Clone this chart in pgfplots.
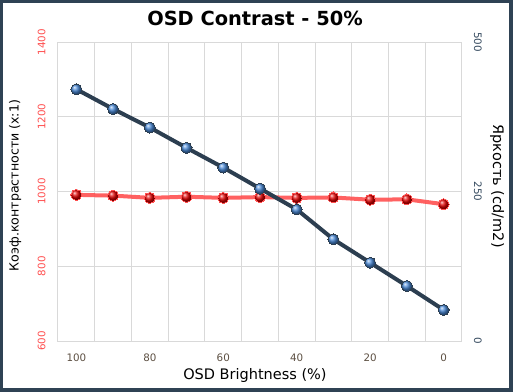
\documentclass[border=0pt]{standalone}
\usepackage{fontspec}
\setmainfont{DejaVu Sans}
\usepackage{pgfplots}
\pgfplotsset{compat=1.18}
\definecolor{framec}{HTML}{2F4254}
\definecolor{gridc}{HTML}{D9D9D9}
\definecolor{lred}{HTML}{FF5050}
\definecolor{dred}{HTML}{E00000}
\definecolor{navy}{HTML}{2C3E50}
\definecolor{lblue}{HTML}{4A8AD8}
\definecolor{rtick}{HTML}{34495E}
\definecolor{xtickc}{HTML}{5C4F42}
\pgfplotsset{base/.style={
  scale only axis, width=404bp, height=299bp,
  xmin=-5, xmax=105, x dir=reverse,
  tick style={draw=none},
  major tick length=0pt, minor tick length=0pt,
  /pgf/number format/assume math mode=true,
  /pgf/number format/1000 sep={},
  ticklabel style={font=\fontsize{10.3bp}{12bp}\selectfont},
  clip=false,
}}
\begin{document}
\begin{tikzpicture}
\path[use as bounding box] (-58bp,-51bp) rectangle (455bp,341bp);
\fill[framec] (-58bp,-51bp) rectangle (455bp,341bp);
\fill[white] (-55bp,-47bp) rectangle (451bp,338bp);
\begin{axis}[base,
  ymin=600, ymax=1400, ytick={600,800,...,1400},
  ymajorgrids, major grid style={gridc, line width=1bp},
  xtick={0,20,...,100}, minor xtick={5,15,...,95},
  xminorgrids, minor grid style={gridc, line width=1bp},
  axis line style={gridc, line width=1bp},
  yticklabel style={rotate=90, anchor=south, color=lred},
  yticklabel shift=9bp,
  xticklabel style={color=xtickc},
  xticklabel shift=9bp,
  title={OSD Contrast - 50\%},
  title style={at={(axis description cs:0.4876,1.06)}, anchor=center, font=\bfseries\fontsize{19.4bp}{22bp}\selectfont},
  xlabel={OSD Brightness (\%)},
  every axis x label/.style={at={(axis description cs:0.4876,-0.117)}, anchor=center, font=\fontsize{14.5bp}{17bp}\selectfont},
  ylabel={Коэф.контрастности (x:1)},
  every axis y label/.style={at={(axis description cs:-0.106,0.52)}, rotate=90, anchor=center, font=\fontsize{12.6bp}{15bp}\selectfont},
]
\addplot[color=lred, line width=4bp, opacity=0.9, mark=ball, mark size=5.5bp, mark options={ball color=dred, opacity=1, draw=none, line width=0pt}] coordinates {
(100,991) (90,989) (80,983) (70,986) (60,983) (50,985) (40,983) (30,984) (20,978) (10,979) (0,966)};
\end{axis}
\begin{axis}[base,
  axis y line*=right, axis x line=none,
  ymin=0, ymax=500, ytick={0,250,500},
  axis line style={draw=none},
  yticklabel style={rotate=-90, anchor=south, color=rtick},
  yticklabel shift=8.5bp,
  ylabel={Яркость (cd/m2)},
  every axis y label/.style={at={(axis description cs:1.087,0.518)}, rotate=-90, anchor=center, font=\fontsize{14.5bp}{17bp}\selectfont},
]
\addplot[color=navy, line width=4bp, mark=ball, mark size=5.5bp, mark options={ball color=lblue, draw=none, line width=0pt}] coordinates {
(100,421) (90,388) (80,357) (70,323) (60,290) (50,255) (40,220) (30,170) (20,131) (10,92) (0,52)};
\end{axis}
\end{tikzpicture}
\end{document}
